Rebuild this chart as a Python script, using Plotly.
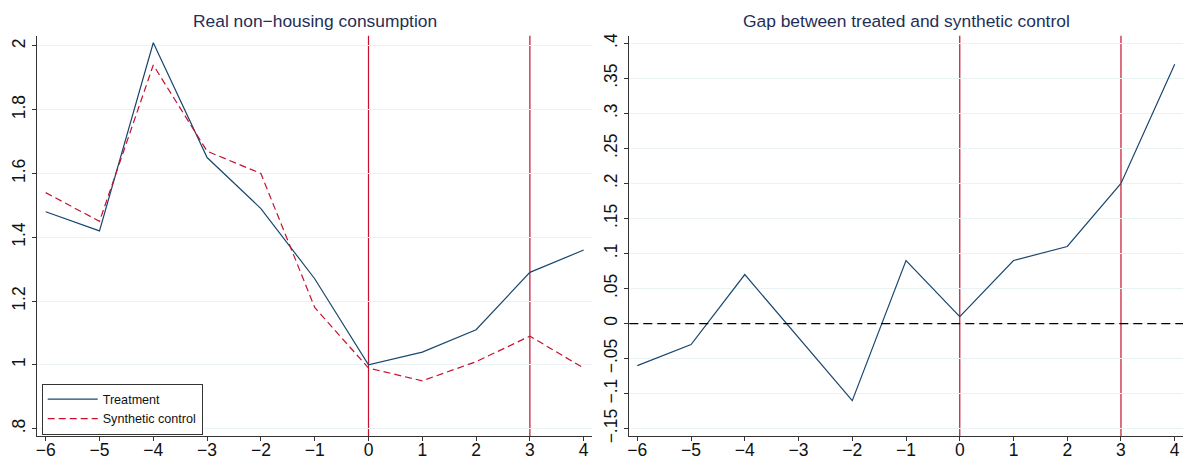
import plotly.graph_objects as go

years = [-6, -5, -4, -3, -2, -1, 0, 1, 2, 3, 4]
treatment = [1.48, 1.42, 2.01, 1.65, 1.49, 1.27, 1.00, 1.04, 1.11, 1.29, 1.36]
synthetic = [1.54, 1.45, 1.94, 1.67, 1.60, 1.18, 0.99, 0.95, 1.01, 1.09, 0.99]
gap = [-0.06, -0.03, 0.07, -0.02, -0.11, 0.09, 0.01, 0.09, 0.11, 0.20, 0.37]

event_lines = [0, 3]

x_ticks = [-6, -5, -4, -3, -2, -1, 0, 1, 2, 3, 4]
x_ticktext = ["\u22126", "\u22125", "\u22124", "\u22123", "\u22122", "\u22121", "0", "1", "2", "3", "4"]
left_yticks = [0.8, 1.0, 1.2, 1.4, 1.6, 1.8, 2.0]
left_yticktext = [".8", "1", "1.2", "1.4", "1.6", "1.8", "2"]
right_yticks = [-0.15, -0.1, -0.05, 0, 0.05, 0.1, 0.15, 0.2, 0.25, 0.3, 0.35, 0.4]
right_yticktext = ["\u2212.15", "\u2212.1", "\u2212.05", "0", ".05", ".1", ".15", ".2", ".25", ".3", ".35", ".4"]

titles = ["Real non\u2212housing consumption", "Gap between treated and synthetic control"]

W, H = 1184, 460
NAVY = "#1a476f"
RED = "#c8102e"
FONT = "Liberation Sans, Arial, Helvetica, sans-serif"

fig = go.Figure()
fig.add_trace(go.Scatter(x=years, y=treatment, mode="lines", name="Treatment",
                         line=dict(color=NAVY, width=1.2), xaxis="x", yaxis="y"))
fig.add_trace(go.Scatter(x=years, y=synthetic, mode="lines", name="Synthetic control",
                         line=dict(color=RED, width=1.2, dash="7px,4px"), xaxis="x", yaxis="y"))
fig.add_trace(go.Scatter(x=years, y=gap, mode="lines", name="Gap", showlegend=False,
                         line=dict(color=NAVY, width=1.2), xaxis="x2", yaxis="y2"))

ydom = [24 / H, 1 - 35.7 / H]
xdom1 = [37.3 / W, 591.7 / W]
xdom2 = [629.3 / W, 1183 / W]

axis_common = dict(showline=True, linecolor="#333333", linewidth=1, ticks="outside",
                   ticklen=4, tickcolor="#333333", tickwidth=1, zeroline=False,
                   tickfont=dict(family=FONT, size=17.5, color="#111111"), automargin=False)

fig.update_layout(
    width=W, height=H,
    margin=dict(l=0, r=0, t=0, b=0),
    paper_bgcolor="white", plot_bgcolor="white",
    font=dict(family=FONT),
    xaxis=dict(domain=xdom1, range=[-6.156, 4.149], tickvals=x_ticks, ticktext=x_ticktext,
               showgrid=False, anchor="y", ticklabelstandoff=-6, **axis_common),
    yaxis=dict(domain=ydom, range=[0.777, 2.032], tickvals=left_yticks, ticktext=left_yticktext,
               showgrid=True, gridcolor="#eaf2f3", gridwidth=1, tickangle=-90, anchor="x",
               **axis_common),
    xaxis2=dict(domain=xdom2, range=[-6.149, 4.154], tickvals=x_ticks, ticktext=x_ticktext,
                showgrid=False, anchor="y2", ticklabelstandoff=-6, **axis_common),
    yaxis2=dict(domain=ydom, range=[-0.1604, 0.4108], tickvals=right_yticks, ticktext=right_yticktext,
                showgrid=True, gridcolor="#eaf2f3", gridwidth=1, tickangle=-90, anchor="x2",
                **axis_common),
    legend=dict(x=41.7 / W, y=1 - 434.5 / H, xanchor="left", yanchor="bottom",
                bordercolor="#333333", borderwidth=1, bgcolor="white",
                font=dict(family=FONT, size=12.6, color="#111111"),
                itemwidth=50, tracegroupgap=0),
    showlegend=True,
)

shapes = []
for xr in ["x", "x2"]:
    for v in event_lines:
        shapes.append(dict(type="line", xref=xr, yref=("y" if xr == "x" else "y2") + " domain",
                           x0=v, x1=v, y0=0, y1=1, line=dict(color=RED, width=1.2), layer="below"))
shapes.append(dict(type="line", xref="x2 domain", yref="y2", x0=0, x1=1, y0=0, y1=0,
                   line=dict(color="black", width=1.2, dash="9px,5px"), layer="above"))
fig.update_layout(shapes=shapes)

for dom, t in zip([xdom1, xdom2], titles):
    fig.add_annotation(text=t, xref="paper", yref="paper", x=(dom[0] + dom[1]) / 2,
                       y=1 - 21 / H, xanchor="center", yanchor="middle", showarrow=False,
                       font=dict(family=FONT, size=17.4, color="#1f2f57"))

fig.write_html("out.html", config={"displayModeBar": False},
               post_script="document.body.style.margin='0';document.body.style.overflow='hidden';")
